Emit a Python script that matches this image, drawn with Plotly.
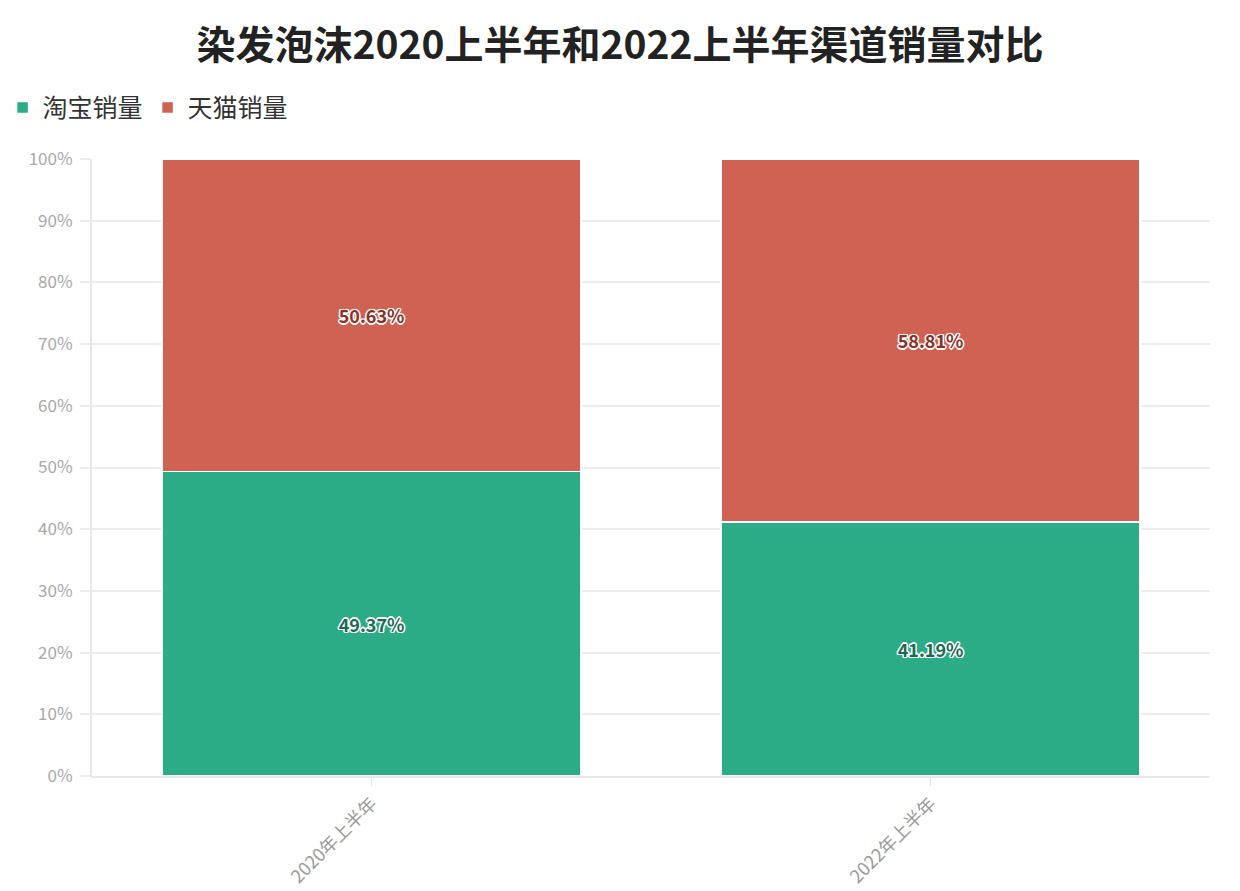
import plotly.graph_objects as go

# 数据
periods = ["2020年上半年", "2022年上半年"]
taobao_share = [49.37, 41.19]
tmall_share = [50.63, 58.81]

y_ticks = [0, 10, 20, 30, 40, 50, 60, 70, 80, 90, 100]
y_tick_text = [f"{v}%" for v in y_ticks]

FONT = "Noto Sans CJK SC"
outline = ("-1px -1px 0 #fff, 1px -1px 0 #fff, -1px 1px 0 #fff, 1px 1px 0 #fff, "
           "0 -1.5px 0 #fff, 0 1.5px 0 #fff, -1.5px 0 0 #fff, 1.5px 0 0 #fff")

fig = go.Figure()
fig.add_trace(go.Bar(
    x=periods, y=taobao_share, name="淘宝销量",
    marker=dict(color="#2bac87", line=dict(color="white", width=1.5)),
    text=[f"{v:.2f}%" for v in taobao_share], textposition="inside",
    insidetextanchor="middle",
    textfont=dict(family=FONT, size=18, color="#1d6a53", weight="bold", shadow=outline),
))
fig.add_trace(go.Bar(
    x=periods, y=tmall_share, name="天猫销量",
    marker=dict(color="#d06253", line=dict(color="white", width=1.5)),
    text=[f"{v:.2f}%" for v in tmall_share], textposition="inside",
    insidetextanchor="middle",
    textfont=dict(family=FONT, size=18, color="#8a3127", weight="bold", shadow=outline),
))

fig.update_layout(
    barmode="stack",
    bargap=0.25,
    width=1240, height=891,
    paper_bgcolor="white", plot_bgcolor="white",
    font=dict(family=FONT),
    title=dict(text="<b>染发泡沫2020上半年和2022上半年渠道销量对比</b>",
               x=0.4935, xanchor="center", y=0.958, yanchor="middle",
               font=dict(size=39, color="#222222", family=FONT)),
    legend=dict(orientation="h", x=-0.08, xanchor="left", y=1.083, yanchor="middle",
                font=dict(size=25, color="#333333", family=FONT),
                itemwidth=30, traceorder="normal"),
    margin=dict(l=84, r=38, t=151, b=123, autoexpand=False),
    uniformtext=dict(mode="show", minsize=10),
)
fig.update_yaxes(
    range=[0, 100], tickvals=y_ticks, ticktext=y_tick_text,
    showgrid=True, gridcolor="#ececec", gridwidth=2,
    showline=True, linecolor="#e8e8e8", linewidth=2,
    ticks="outside", ticklen=10, tickcolor="#ececec", tickwidth=2,
    ticklabelstandoff=4, automargin=False,
    tickfont=dict(size=17, color="#a8a8a8", family=FONT),
    zeroline=False,
)
fig.update_xaxes(
    showline=True, linecolor="#e8e8e8", linewidth=2,
    ticks="outside", ticklen=8, tickcolor="#e0e0e0", tickwidth=1,
    tickangle=-45, automargin=False,
    tickfont=dict(size=18, color="#9a9a9a", family=FONT),
)

fig.write_html("out.html")
